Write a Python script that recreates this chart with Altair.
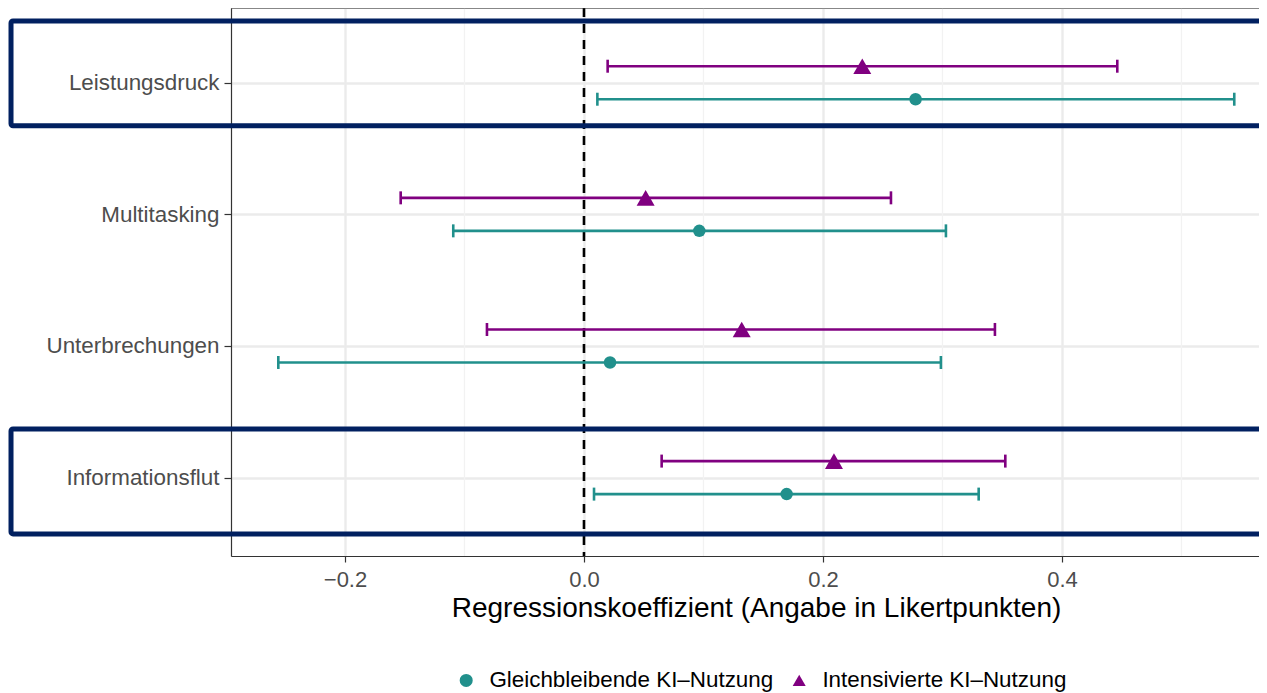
import altair as alt
import pandas as pd

categories = ["Leistungsdruck", "Multitasking", "Unterbrechungen", "Informationsflut"]
series = ["Gleichbleibende KI–Nutzung", "Intensivierte KI–Nutzung"]

teal_est = [0.2775, 0.0965, 0.0218, 0.1696]
teal_lo = [0.0112, -0.1094, -0.2558, 0.0084]
teal_hi = [0.5442, 0.3029, 0.2987, 0.3303]

purple_est = [0.2329, 0.0516, 0.1320, 0.2092]
purple_lo = [0.0198, -0.1534, -0.0812, 0.0650]
purple_hi = [0.4463, 0.2569, 0.3439, 0.3526]

highlighted = ["Leistungsdruck", "Informationsflut"]
highlight_lo = [3.673, 0.572]
highlight_hi = [4.469, 1.369]

x_major = [-0.2, 0.0, 0.2, 0.4]
x_minor = [-0.1, 0.1, 0.3, 0.5]

colors = ["#21908C", "#800080"]
shapes = ["circle", "triangle-up"]
sizes = [156, 324]

n = len(categories)
rows = []
for i, c in enumerate(categories):
    rows.append({"category": c, "series": series[0], "idx": n - i, "dodge": -1,
                 "est": teal_est[i], "lo": teal_lo[i], "hi": teal_hi[i]})
    rows.append({"category": c, "series": series[1], "idx": n - i, "dodge": 1,
                 "est": purple_est[i], "lo": purple_lo[i], "hi": purple_hi[i]})
df = pd.DataFrame(rows)

hl = pd.DataFrame({"category": highlighted, "ylo": highlight_lo, "yhi": highlight_hi,
                   "xlo": [-0.4795, -0.4795], "xhi": [0.62, 0.62]})
minor_df = pd.DataFrame({"x": x_minor})

W, H = 1028, 548
xscale = alt.Scale(domain=[-0.2954, 0.5649], nice=False, zero=False)
yscale = alt.Scale(domain=[0.4044, 4.5676], nice=False, zero=False)

label_expr = " : ".join(
    [f"datum.value == {n - i} ? '{c}'" for i, c in enumerate(categories)]) + " : ''"

font = "Liberation Sans"

base = alt.Chart(df).transform_calculate(
    ypos="datum.idx + datum.dodge * 0.1254"
)

minor = alt.Chart(minor_df).mark_rule(color="#F2F2F2", strokeWidth=1.3).encode(
    x=alt.X("x:Q", scale=xscale,
            axis=alt.Axis(values=x_major, format=".1f", grid=True, gridColor="#EBEBEB",
                          gridWidth=2.4, tickSize=6, tickColor="#333333", tickWidth=1.2,
                          labelFontSize=22, labelColor="#4D4D4D", labelFont=font,
                          labelPadding=7, domainColor="#333333", domainWidth=1.2,
                          title="Regressionskoeffizient (Angabe in Likertpunkten)",
                          titleFont=font, titleFontSize=28, titleFontWeight="normal",
                          titleColor="#000000", titleX=525, titleY=60,
                          titleBaseline="alphabetic", titleAnchor="middle")),
)

y_axis = alt.Axis(values=[1, 2, 3, 4], labelExpr=label_expr, grid=True, gridColor="#EBEBEB",
                  gridWidth=2.4, tickSize=7, tickColor="#333333", tickWidth=1.2,
                  labelFontSize=22.4, labelColor="#4D4D4D", labelFont=font, labelPadding=5,
                  domainColor="#333333", domainWidth=1.2, title=None)

vline = alt.Chart(pd.DataFrame({"x": [0.0]})).mark_rule(
    color="black", strokeWidth=2.6, strokeDash=[9, 7]
).encode(x=alt.X("x:Q", scale=xscale))

cscale = alt.Scale(domain=series, range=colors)
sscale = alt.Scale(domain=series, range=shapes)
legend = alt.Legend(orient="none", legendX=224, legendY=661,
                    direction="horizontal", title=None,
                    labelFontSize=22.4, labelFont=font, labelColor="#000000",
                    labelLimit=0, symbolSize=170, symbolOpacity=1,
                    labelOffset=12, columnPadding=14,
                    padding=0, symbolStrokeWidth=0)

bars = base.mark_rule(strokeWidth=2.6).encode(
    x=alt.X("lo:Q", scale=xscale), x2="hi:Q",
    y=alt.Y("ypos:Q", scale=yscale, axis=y_axis),
    color=alt.Color("series:N", scale=cscale),
)

caps_lo = base.mark_tick(orient="vertical", size=13, thickness=2.6, opacity=1).encode(
    x=alt.X("lo:Q", scale=xscale), y=alt.Y("ypos:Q", scale=yscale),
    color=alt.Color("series:N", scale=cscale),
)
caps_hi = base.mark_tick(orient="vertical", size=13, thickness=2.6, opacity=1).encode(
    x=alt.X("hi:Q", scale=xscale), y=alt.Y("ypos:Q", scale=yscale),
    color=alt.Color("series:N", scale=cscale),
)

pts = []
for s, sz in zip(series, sizes):
    pts.append(base.transform_filter(alt.datum.series == s).mark_point(
        filled=True, opacity=1, size=sz).encode(
        x=alt.X("est:Q", scale=xscale), y=alt.Y("ypos:Q", scale=yscale),
        color=alt.Color("series:N", scale=cscale, legend=legend),
        shape=alt.Shape("series:N", scale=sscale, legend=legend),
    ))

boxes = alt.Chart(hl).mark_rect(fill=None, fillOpacity=0, stroke="#012060", strokeWidth=5,
                                cornerRadius=2).encode(
    x=alt.X("xlo:Q", scale=xscale), x2="xhi:Q",
    y=alt.Y("ylo:Q", scale=yscale), y2="yhi:Q",
)

top_border = alt.Chart(pd.DataFrame({"a": [0]})).mark_rule(
    color="#333333", strokeWidth=1.2
).encode(x=alt.value(0), x2=alt.value(W), y=alt.value(0))

chart = alt.layer(minor, vline, bars, caps_lo, caps_hi, *pts, boxes, top_border).properties(
    width=W, height=H,
    autosize=alt.AutoSizeParams(type="none"),
    padding={"left": 223, "top": 0, "right": 0, "bottom": 137},
).configure_view(stroke=None).configure(font=font)

chart.save("out.html", embed_options={"renderer": "svg", "actions": False})
